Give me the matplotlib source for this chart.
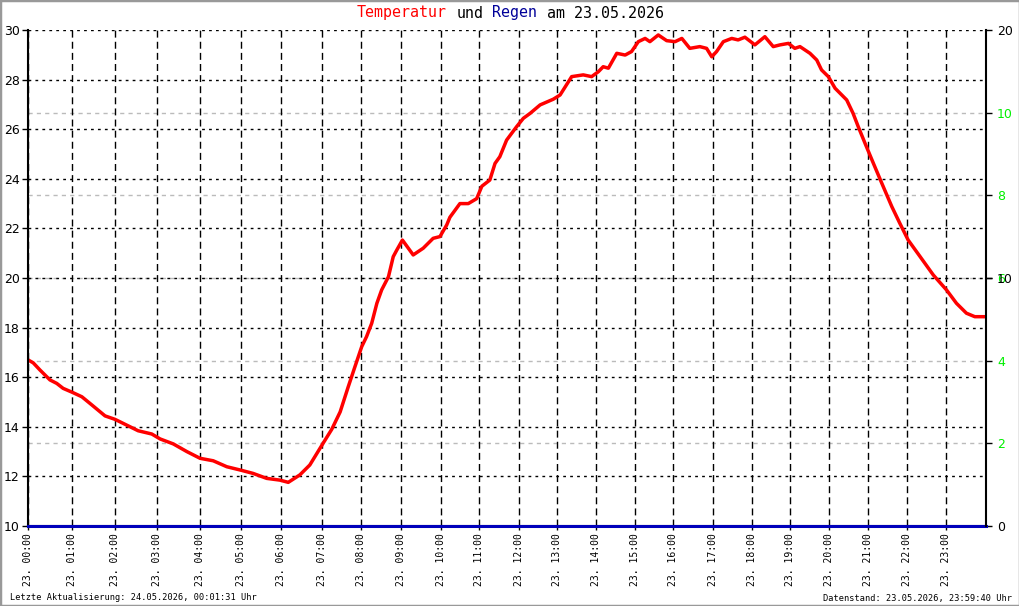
import matplotlib
matplotlib.use('Agg')
import matplotlib.pyplot as plt
from matplotlib.patches import Rectangle

# temperature curve, x in hours along the axis
hours = [0.01, 0.13, 0.30, 0.55, 0.72, 0.88, 1.11, 1.35, 1.60, 1.93, 2.18, 2.47, 2.76,
         3.10, 3.31, 3.64, 3.98, 4.31, 4.64, 4.98, 5.31, 5.64, 5.98, 6.31, 6.52, 6.81,
         7.06, 7.36, 7.61, 7.82, 8.02, 8.19, 8.36, 8.48, 8.61, 8.74, 8.86, 9.03, 9.15,
         9.24, 9.38, 9.65, 9.90, 10.15, 10.32, 10.49, 10.57, 10.82, 11.03, 11.24, 11.37,
         11.57, 11.70, 11.82, 11.99, 12.24, 12.41, 12.58, 12.83, 13.16, 13.33, 13.62,
         13.91, 14.12, 14.29, 14.41, 14.54, 14.75, 14.96, 15.12, 15.29, 15.46, 15.58,
         15.79, 16.00, 16.21, 16.38, 16.58, 16.83, 17.00, 17.13, 17.25, 17.42, 17.63,
         17.79, 17.96, 18.21, 18.46, 18.67, 18.84, 19.05, 19.21, 19.34, 19.59, 19.76,
         19.88, 20.05, 20.22, 20.51, 20.67, 20.80, 20.97, 21.18, 21.39, 21.64, 21.84,
         22.05, 22.35, 22.68, 23.01, 23.26, 23.51, 23.72, 23.97]
temp = [16.69, 16.58, 16.29, 15.89, 15.75, 15.55, 15.39, 15.21, 14.88, 14.44, 14.30, 14.07,
        13.84, 13.71, 13.51, 13.31, 13.00, 12.73, 12.63, 12.39, 12.26, 12.12, 11.92, 11.85,
        11.76, 12.06, 12.46, 13.25, 13.90, 14.60, 15.60, 16.42, 17.23, 17.63, 18.17, 18.98,
        19.52, 20.05, 20.86, 21.13, 21.53, 20.93, 21.20, 21.60, 21.67, 22.14, 22.45, 23.00,
        23.00, 23.20, 23.70, 23.95, 24.62, 24.89, 25.56, 26.10, 26.44, 26.64, 26.98, 27.21,
        27.38, 28.12, 28.19, 28.12, 28.32, 28.52, 28.46, 29.06, 28.99, 29.13, 29.53, 29.66,
        29.53, 29.80, 29.57, 29.53, 29.66, 29.26, 29.33, 29.26, 28.92, 29.13, 29.53, 29.66,
        29.60, 29.71, 29.40, 29.73, 29.33, 29.40, 29.46, 29.26, 29.33, 29.06, 28.79, 28.39,
        28.12, 27.65, 27.18, 26.64, 26.10, 25.43, 24.62, 23.82, 22.88, 22.21, 21.53, 20.86,
        20.12, 19.52, 18.98, 18.58, 18.44, 18.44]

# rain (mm), none that day
rain_hours = [0.0, 24.0]
rain = [0.0, 0.0]

# hour ticks are not evenly spaced in the original
tick_pos = [0.0, 1.11, 2.17, 3.24, 4.30, 5.34, 6.35, 7.36, 8.35, 9.34, 10.34, 11.31,
            12.29, 13.26, 14.24, 15.20, 16.16, 17.15, 18.13, 19.10, 20.07, 21.05, 22.03, 23.01]
tick_labels = ['23. %02d:00' % h for h in range(24)]

temp_ticks = [10, 12, 14, 16, 18, 20, 22, 24, 26, 28, 30]
green_ticks = [2, 4, 6, 8, 10]
rain_ticks = [0, 10, 20]

mono = 'DejaVu Sans Mono'

fig = plt.figure(figsize=(10.2, 6.06), dpi=100)
fig.patch.set_facecolor('white')
W, H = 1020, 606
ax = fig.add_axes([28 / W, 80 / H, 958 / W, 496 / H])
ax2 = ax.twinx()
ax3 = ax.twinx()

# gray grid on ax2 sits lowest, temperature on top of it, rain axis last
ax2.set_zorder(1)
ax.set_zorder(2)
ax3.set_zorder(3)
for a in (ax, ax2, ax3):
    a.patch.set_visible(False)

ax.plot(hours, temp, color='#ff0000', linewidth=2.5, solid_joinstyle='round')
ax.set_xlim(0, 24)
ax.set_ylim(10, 30)
ax.set_yticks(temp_ticks)
ax.set_yticklabels([str(t) for t in temp_ticks], fontsize=9)
ax.set_xticks(tick_pos)
ax.set_xticklabels(tick_labels, rotation=90, fontsize=7, family=mono, va='top')
ax.tick_params(axis='y', direction='out', length=4, width=1, pad=2)
ax.tick_params(axis='x', direction='out', length=3, width=1, pad=2)
ax.yaxis.grid(True, color='black', linestyle=(0, (2, 3)), linewidth=1)
ax.xaxis.grid(True, color='black', linestyle=(0, (5, 3)), linewidth=1)
ax.spines['top'].set_visible(False)
ax.spines['right'].set_visible(False)
ax.spines['left'].set_linewidth(1.5)
ax.spines['bottom'].set_linewidth(1.5)

ax2.set_ylim(0, 12)
ax2.set_yticks(green_ticks)
ax2.set_yticklabels([str(t) for t in green_ticks], fontsize=9, color='#00f000')
ax2.tick_params(axis='y', direction='out', length=4, width=1, pad=4)
ax2.yaxis.grid(True, color='#bbbbbb', linestyle=(0, (3, 3)), linewidth=1)
for s in ax2.spines.values():
    s.set_visible(False)

ax3.plot(rain_hours, rain, color='#0000bb', linewidth=2.2, clip_on=False)
ax3.set_ylim(0, 20)
ax3.set_yticks(rain_ticks)
ax3.set_yticklabels([str(t) for t in rain_ticks], fontsize=9, color='black')
ax3.tick_params(axis='y', direction='out', length=4, width=1, pad=4)
for side in ('top', 'left', 'bottom'):
    ax3.spines[side].set_visible(False)
ax3.spines['right'].set_linewidth(1.5)

# title, one colour per word
cw = 9.03
x0 = 357
y_t = 1 - 13 / H
parts = [('Temperatur', '#ff0000', 0), ('und', 'black', 11), ('Regen', '#000099', 15),
         ('am 23.05.2026', 'black', 21)]
for txt, col, off in parts:
    fig.text((x0 + off * cw) / W, y_t, txt, color=col, fontsize=10.8, family=mono,
             ha='left', va='center')

fig.text(10 / W, 1 - 598 / H, 'Letzte Aktualisierung: 24.05.2026, 00:01:31 Uhr',
         fontsize=6.2, family=mono, ha='left', va='center')
fig.text(1012 / W, 1 - 598 / H, 'Datenstand: 23.05.2026, 23:59:40 Uhr',
         fontsize=6.2, family=mono, ha='right', va='center')

fig.patches.append(Rectangle((0, 0), 1, 1, transform=fig.transFigure, fill=False,
                             edgecolor='#999999', linewidth=2.5))

fig.savefig('out.png', dpi=100)
